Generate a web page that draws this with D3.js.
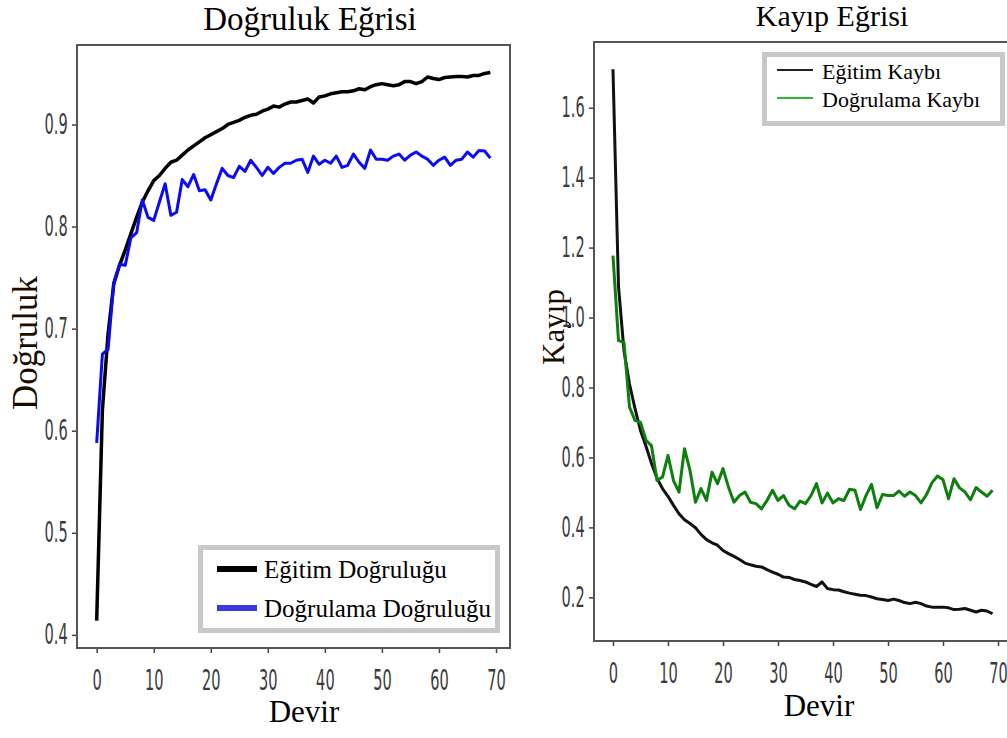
<!DOCTYPE html>
<html>
<head>
<meta charset="utf-8">
<script src="https://cdn.jsdelivr.net/npm/d3@7"></script>
<style>
  body { margin: 0; background: #fff; }
  svg { display: block; }
</style>
</head>
<body>
<div id="chart"></div>
<script>
// values, one per epoch (0..69)
let trainAcc = [
  0.414, 0.620, 0.695, 0.744, 0.762, 0.777, 0.793, 0.809, 0.824, 0.835,
  0.845, 0.850, 0.857, 0.863, 0.865, 0.870, 0.875, 0.879, 0.883, 0.887,
  0.890, 0.893, 0.896, 0.900, 0.902, 0.904, 0.907, 0.909, 0.910, 0.913,
  0.915, 0.918, 0.917, 0.920, 0.922, 0.922, 0.9235, 0.925, 0.921, 0.927,
  0.928, 0.930, 0.931, 0.932, 0.932, 0.933, 0.935, 0.934, 0.937, 0.939,
  0.940, 0.939, 0.938, 0.939, 0.942, 0.942, 0.940, 0.942, 0.9465, 0.945,
  0.944, 0.946, 0.9465, 0.947, 0.947, 0.9465, 0.948, 0.948, 0.950, 0.951
];
let valAcc = [
  0.588, 0.675, 0.680, 0.745, 0.763, 0.762, 0.789, 0.794, 0.826, 0.809,
  0.806, 0.824, 0.842, 0.811, 0.814, 0.846, 0.839, 0.851, 0.835, 0.836,
  0.826, 0.842, 0.857, 0.850, 0.848, 0.859, 0.854, 0.865, 0.858, 0.850,
  0.858, 0.852, 0.858, 0.862, 0.862, 0.865, 0.866, 0.853, 0.869, 0.861,
  0.865, 0.862, 0.869, 0.858, 0.860, 0.871, 0.863, 0.857, 0.875, 0.866,
  0.866, 0.865, 0.869, 0.871, 0.865, 0.870, 0.873, 0.869, 0.866, 0.860,
  0.865, 0.868, 0.860, 0.865, 0.866, 0.873, 0.868, 0.8745, 0.874, 0.867
];
let trainLoss = [
  1.710, 1.090, 0.905, 0.810, 0.740, 0.677, 0.632, 0.583, 0.541, 0.511,
  0.489, 0.463, 0.439, 0.422, 0.411, 0.399, 0.380, 0.365, 0.356, 0.349,
  0.334, 0.325, 0.317, 0.308, 0.298, 0.293, 0.289, 0.287, 0.279, 0.272,
  0.266, 0.258, 0.257, 0.251, 0.248, 0.244, 0.237, 0.231, 0.244, 0.225,
  0.222, 0.221, 0.216, 0.212, 0.209, 0.206, 0.205, 0.201, 0.196, 0.194,
  0.191, 0.195, 0.191, 0.185, 0.182, 0.186, 0.182, 0.175, 0.172, 0.172,
  0.172, 0.170, 0.165, 0.166, 0.168, 0.163, 0.158, 0.163, 0.161, 0.153
];
let valLoss = [
  1.177, 0.934, 0.929, 0.744, 0.706, 0.700, 0.649, 0.634, 0.534, 0.544,
  0.606, 0.534, 0.501, 0.625, 0.563, 0.472, 0.511, 0.477, 0.558, 0.525,
  0.568, 0.515, 0.472, 0.491, 0.501, 0.472, 0.468, 0.453, 0.477, 0.506,
  0.477, 0.491, 0.463, 0.453, 0.475, 0.468, 0.491, 0.525, 0.470, 0.498,
  0.470, 0.482, 0.477, 0.509, 0.506, 0.451, 0.491, 0.523, 0.456, 0.494,
  0.491, 0.491, 0.504, 0.489, 0.501, 0.491, 0.470, 0.494, 0.528, 0.547,
  0.536, 0.482, 0.539, 0.513, 0.501, 0.479, 0.514, 0.501, 0.489, 0.506
];
let epochs = trainAcc.map((d, i) => i);
let epochTicks = [0, 10, 20, 30, 40, 50, 60, 70];
let accTicks = [0.4, 0.5, 0.6, 0.7, 0.8, 0.9];
let lossTicks = [0.2, 0.4, 0.6, 0.8, 1.0, 1.2, 1.4, 1.6];

let serif = "'Liberation Serif', 'Times New Roman', serif";

let svg = d3.select("#chart")
    .append("svg")
    .attr("width", 1007)
    .attr("height", 738);

// matplotlib style 5% margins
function padded(ext) {
    let m = (ext[1] - ext[0]) * 0.05;
    return [ext[0] - m, ext[1] + m];
}

function drawPanel(opt) {
    let x = d3.scaleLinear().domain(padded(d3.extent(epochs))).range([opt.left, opt.right]);
    let y = d3.scaleLinear().domain(padded(d3.extent(opt.a.concat(opt.b)))).range([opt.bottom, opt.top]);

    let g = svg.append("g");

    // y axis
    let ya = g.append("g")
        .attr("transform", "translate(" + opt.left + ",0)")
        .call(d3.axisLeft(y).tickValues(opt.yTicks).tickSize(5).tickFormat(d3.format(".1f")));
    // x axis
    let xa = g.append("g")
        .attr("transform", "translate(0," + opt.bottom + ")")
        .call(d3.axisBottom(x).tickValues(epochTicks).tickSize(5));

    [ya, xa].forEach(function(a) {
        a.select(".domain").remove();
        a.selectAll(".tick line").attr("stroke", "#444").attr("stroke-width", 1.5);
        a.selectAll(".tick text")
            .attr("fill", "#3a3a3a")
            .style("font-family", "'DejaVu Sans', sans-serif")
            .style("font-size", "28px");
    });
    // narrow, tall tick digits like the picture
    ya.selectAll(".tick text").attr("x", -18).attr("transform", "scale(0.52,1)");
    xa.selectAll(".tick text").attr("y", 22).attr("transform", "scale(0.52,1)");

    // frame
    g.append("rect")
        .attr("x", opt.left).attr("y", opt.top)
        .attr("width", opt.right - opt.left).attr("height", opt.bottom - opt.top)
        .attr("fill", "none").attr("stroke", "#555").attr("stroke-width", 2);

    let line = d3.line().x((d, i) => x(i)).y(d => y(d));
    g.append("path").datum(opt.a)
        .attr("fill", "none").attr("stroke", opt.colA).attr("stroke-width", opt.wA)
        .attr("stroke-linejoin", "round").attr("d", line);
    g.append("path").datum(opt.b)
        .attr("fill", "none").attr("stroke", opt.colB).attr("stroke-width", opt.wB)
        .attr("stroke-linejoin", "round").attr("d", line);
    return g;
}

drawPanel({
    left: 77, right: 510, top: 45, bottom: 648,
    a: trainAcc, b: valAcc, colA: "#000", colB: "#0a0af5", wA: 3.5, wB: 3,
    yTicks: accTicks
});
drawPanel({
    left: 594, right: 1011.5, top: 42, bottom: 641,
    a: trainLoss, b: valLoss, colA: "#111", colB: "#0c7f0c", wA: 3, wB: 3,
    yTicks: lossTicks
});

// titles and axis labels
svg.append("text").attr("x", 310).attr("y", 30).attr("text-anchor", "middle")
    .style("font-family", serif).style("font-size", "33px").text("Doğruluk Eğrisi");
svg.append("text").attr("x", 832).attr("y", 26).attr("text-anchor", "middle")
    .style("font-family", serif).style("font-size", "30px").text("Kayıp Eğrisi");
svg.append("text").attr("transform", "translate(37,343) rotate(-90)").attr("text-anchor", "middle")
    .style("font-family", serif).style("font-size", "35px").attr("fill", "#1a0d00").text("Doğruluk");
svg.append("text").attr("transform", "translate(564,327) rotate(-90)").attr("text-anchor", "middle")
    .style("font-family", serif).style("font-size", "31px").attr("fill", "#1a0d00").text("Kayıp");
svg.append("text").attr("x", 304).attr("y", 722).attr("text-anchor", "middle")
    .style("font-family", serif).style("font-size", "31px").text("Devir");
svg.append("text").attr("x", 819).attr("y", 716).attr("text-anchor", "middle")
    .style("font-family", serif).style("font-size", "31px").text("Devir");

// legends
function legend(box, items) {
    let g = svg.append("g");
    g.append("rect").attr("x", box.x).attr("y", box.y).attr("width", box.w).attr("height", box.h)
        .attr("fill", "#fff").attr("stroke", "#c8c8c8").attr("stroke-width", 5);
    items.forEach(function(it) {
        g.append("line").attr("x1", box.lx1).attr("x2", box.lx2).attr("y1", it.y).attr("y2", it.y)
            .attr("stroke", it.color).attr("stroke-width", box.lw);
        g.append("text").attr("x", box.tx).attr("y", it.y + box.dy)
            .style("font-family", serif).style("font-size", box.fs + "px").text(it.label);
    });
}
legend({x: 200.5, y: 547.5, w: 297, h: 83, lx1: 217, lx2: 257, lw: 6, tx: 264, dy: 9, fs: 25},
    [{label: "Eğitim Doğruluğu", color: "#000", y: 569},
     {label: "Doğrulama Doğruluğu", color: "#3b3bdb", y: 608}]);
legend({x: 764.5, y: 54.5, w: 238, h: 69, lx1: 777, lx2: 813, lw: 2, tx: 822, dy: 9, fs: 22},
    [{label: "Eğitim Kaybı", color: "#222", y: 70},
     {label: "Doğrulama Kaybı", color: "#2db82d", y: 98}]);
</script>
</body>
</html>
